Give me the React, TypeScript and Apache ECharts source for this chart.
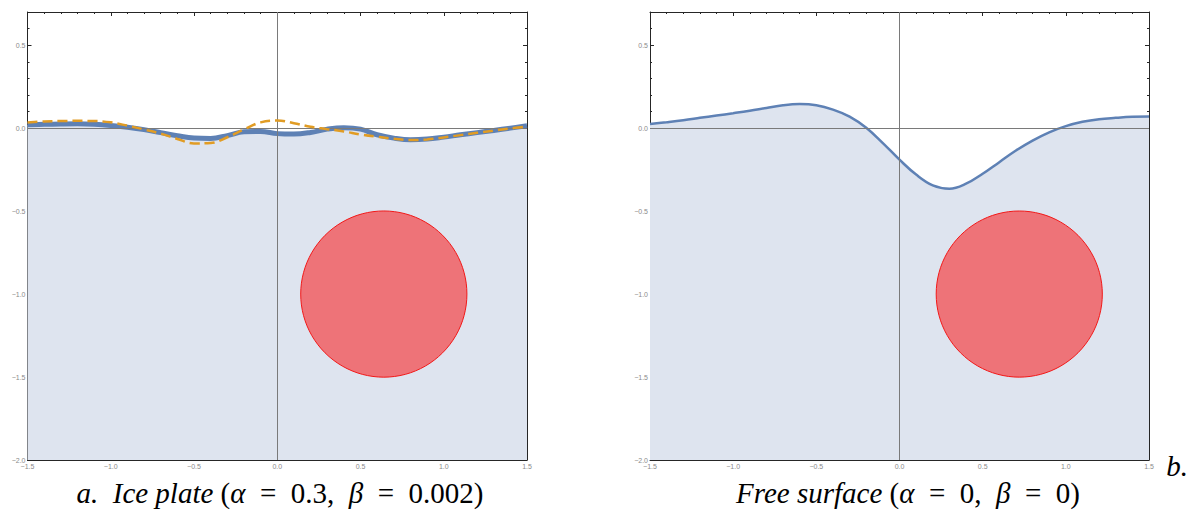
import React, { useEffect, useRef } from "react";
import * as echarts from "echarts";

// x positions of the sampled surface points
const xs = [
  -1.5, -1.4, -1.3, -1.2, -1.1, -1.0, -0.9, -0.8, -0.7, -0.6, -0.5, -0.4, -0.3, -0.2, -0.1, 0.0,
  0.1, 0.2, 0.3, 0.4, 0.5, 0.6, 0.7, 0.8, 0.9, 1.0, 1.1, 1.2, 1.3, 1.4, 1.5,
];

// a. Ice plate: surface (thick blue) and the dashed comparison curve (orange)
const plateSurface = [
  0.02, 0.023, 0.025, 0.026, 0.023, 0.016, 0.005, -0.009, -0.027, -0.046, -0.06, -0.062, -0.045, -0.022,
  -0.02, -0.033, -0.036, -0.026, -0.006, 0.003, -0.006, -0.04, -0.06, -0.07, -0.066, -0.054, -0.04,
  -0.027, -0.014, 0.0, 0.014,
];
const plateDashed = [
  0.034, 0.04, 0.043, 0.044, 0.043, 0.035, 0.015, -0.008, -0.033, -0.065, -0.092, -0.09, -0.055, -0.008,
  0.035, 0.046, 0.03, 0.008, -0.006, -0.02, -0.038, -0.052, -0.064, -0.072, -0.068, -0.056, -0.042,
  -0.028, -0.015, -0.002, 0.01,
];

// b. Free surface
const freeSurface = [
  0.025, 0.036, 0.048, 0.062, 0.076, 0.09, 0.105, 0.122, 0.138, 0.145, 0.138, 0.112, 0.07, 0.003, -0.09,
  -0.19, -0.28, -0.345, -0.365, -0.335, -0.275, -0.205, -0.135, -0.075, -0.025, 0.012, 0.038, 0.054,
  0.062, 0.068, 0.07,
];

// submerged cylinders: [centre x, centre y, radius]
const cylinderA = [0.64, -1.0, 0.5];
const cylinderB = [0.72, -1.0, 0.5];

const captionA = "{it|a.  Ice plate }{rm|(}{it|α}{rm|  =  0.3,  }{it|β}{rm|  =  0.002)}";
const captionB = "{it|Free surface }{rm|(}{it|α}{rm|  =  0,  }{it|β}{rm|  =  0)}";
const captionBTag = "{it|b.}";

const FRAME = "#262626";
const LABEL = "#8a8a8a";
const BLUE = "#5E81B5";
const ORANGE = "#E19C24";
const FILL = "#DEE4EF";

const fmt = (v: number) => v.toFixed(1).replace("-", "\u2212");

function xAxes(g: number) {
  const base = (pos: "bottom" | "top", labels: boolean) => ({
    type: "value",
    gridIndex: g,
    position: pos,
    min: -1.5,
    max: 1.5,
    interval: 0.5,
    axisLine: { show: true, onZero: false, lineStyle: { color: FRAME, width: 1 } },
    axisTick: { show: true, inside: true, length: 4, lineStyle: { color: FRAME, width: 1 } },
    minorTick: { show: true, splitNumber: 5, length: 2, lineStyle: { color: FRAME, width: 1 } },
    splitLine: { show: false },
    axisLabel: {
      show: labels,
      fontSize: 7,
      color: LABEL,
      margin: 3,
      fontFamily: "Liberation Sans",
      formatter: fmt,
    },
  });
  return [base("bottom", true), base("top", false)];
}

function yAxes(g: number) {
  const major = (pos: "left" | "right", labels: boolean) => ({
    type: "value",
    gridIndex: g,
    position: pos,
    min: -2,
    max: 0.7,
    interval: 0.5,
    axisLine: { show: true, onZero: false, lineStyle: { color: FRAME, width: 1 } },
    axisTick: { show: true, inside: true, length: 4, lineStyle: { color: FRAME, width: 1 } },
    splitLine: { show: false },
    axisLabel: {
      show: labels,
      fontSize: 7,
      color: LABEL,
      margin: 2,
      showMaxLabel: false,
      fontFamily: "Liberation Sans",
      formatter: fmt,
    },
  });
  const minor = (pos: "left" | "right") => ({
    type: "value",
    gridIndex: g,
    position: pos,
    min: -2,
    max: 0.7,
    interval: 0.1,
    axisLine: { show: false, onZero: false },
    axisTick: { show: true, inside: true, length: 2, lineStyle: { color: FRAME, width: 1 } },
    splitLine: { show: false },
    axisLabel: { show: false },
  });
  return [major("left", true), minor("left"), major("right", false), minor("right")];
}

const pts = (ys: number[]) => xs.map((x, i) => [x, ys[i]]);

function panelSeries(g: number, surface: number[], cyl: number[], lines: any[]) {
  const xi = g * 2;
  const yi = g * 4;
  return [
    {
      type: "line",
      xAxisIndex: xi,
      yAxisIndex: yi,
      data: pts(surface),
      smooth: 0.4,
      showSymbol: false,
      silent: true,
      lineStyle: { width: 0, opacity: 0 },
      areaStyle: { color: FILL, opacity: 1, origin: "start" },
      z: 1,
    },
    {
      type: "line",
      xAxisIndex: xi,
      yAxisIndex: yi,
      data: pts(surface),
      smooth: 0.4,
      showSymbol: false,
      silent: true,
      lineStyle: { width: 0, opacity: 0 },
      markLine: {
        silent: true,
        symbol: ["none", "none"],
        label: { show: false },
        lineStyle: { color: "#7a7a7a", width: 1, type: "solid" },
        data: [{ xAxis: 0 }, { yAxis: 0 }],
      },
      z: 2,
    },
    {
      type: "custom",
      xAxisIndex: xi,
      yAxisIndex: yi,
      data: [cyl],
      silent: true,
      z: 3,
      renderItem: (params: any, api: any) => {
        const c = api.coord([api.value(0), api.value(1)]);
        const s = api.size([api.value(2), api.value(2)]);
        return {
          type: "circle",
          shape: { cx: c[0], cy: c[1], r: (s[0] + s[1]) / 2 },
          style: { fill: "#EE7378", stroke: "#F21818", lineWidth: 1 },
        };
      },
    },
    ...lines.map((l) => ({
      type: "line",
      xAxisIndex: xi,
      yAxisIndex: yi,
      data: pts(l.data),
      smooth: 0.4,
      showSymbol: false,
      silent: true,
      lineStyle: l.style,
      z: l.z,
    })),
  ];
}

export default function App() {
  const ref = useRef<HTMLDivElement>(null);
  useEffect(() => {
    if (!ref.current) return;
    const chart = echarts.init(ref.current, undefined, { renderer: "svg" });
    const serif = "Liberation Serif";
    const rich = {
      it: { fontFamily: serif, fontStyle: "italic", fontSize: 29, color: "#000" },
      rm: { fontFamily: serif, fontStyle: "normal", fontSize: 29, color: "#000" },
    };
    chart.setOption({
      animation: false,
      grid: [
        { left: 27.5, top: 12, width: 499.5, height: 448, show: false },
        { left: 650, top: 12, width: 499, height: 448, show: false },
      ],
      xAxis: [...xAxes(0), ...xAxes(1)],
      yAxis: [...yAxes(0), ...yAxes(1)],
      series: [
        ...panelSeries(0, plateSurface, cylinderA, [
          { data: plateSurface, style: { color: BLUE, width: 5 }, z: 4 },
          { data: plateDashed, style: { color: ORANGE, width: 2.5, type: [10, 5] }, z: 5 },
        ]),
        ...panelSeries(1, freeSurface, cylinderB, [
          { data: freeSurface, style: { color: BLUE, width: 2.5 }, z: 4 },
        ]),
      ],
      graphic: [
        {
          type: "text",
          x: 280,
          y: 493,
          style: { text: captionA, rich, align: "center", verticalAlign: "middle" },
        },
        {
          type: "text",
          x: 908,
          y: 493,
          style: { text: captionB, rich, align: "center", verticalAlign: "middle" },
        },
        {
          type: "text",
          x: 1177,
          y: 466,
          style: { text: captionBTag, rich, align: "center", verticalAlign: "middle" },
        },
      ],
    });
    return () => chart.dispose();
  }, []);
  return (
    <div
      ref={ref}
      style={{ position: "fixed", left: 0, top: 0, width: 1192, height: 515, background: "#fff" }}
    />
  );
}
